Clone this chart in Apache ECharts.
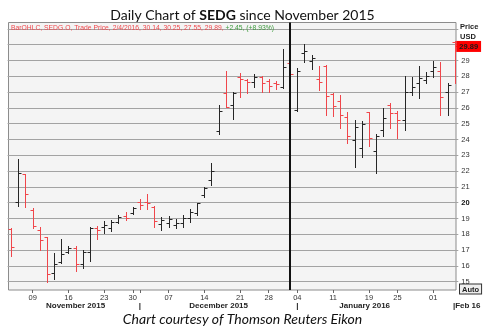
<!DOCTYPE html>
<html>
<head>
<meta charset="utf-8">
<script src="https://cdn.jsdelivr.net/npm/echarts@6/dist/echarts.min.js"></script>
<style>
  html, body { margin: 0; padding: 0; background: #ffffff; }
  #chart { width: 485px; height: 328px; }
</style>
</head>
<body>
<div id="chart"></div>
<script>
// SEDG daily bars, 4 Nov 2015 - 4 Feb 2016
const dates = [
  '2015-11-04','2015-11-05','2015-11-06','2015-11-09','2015-11-10','2015-11-11','2015-11-12','2015-11-13',
  '2015-11-16','2015-11-17','2015-11-18','2015-11-19','2015-11-20','2015-11-23','2015-11-24','2015-11-25',
  '2015-11-27','2015-11-30',
  '2015-12-01','2015-12-02','2015-12-03','2015-12-04','2015-12-07','2015-12-08','2015-12-09','2015-12-10',
  '2015-12-11','2015-12-14','2015-12-15','2015-12-16','2015-12-17','2015-12-18','2015-12-21','2015-12-22',
  '2015-12-23','2015-12-24','2015-12-28','2015-12-29','2015-12-30','2015-12-31',
  '2016-01-04','2016-01-05','2016-01-06','2016-01-07','2016-01-08','2016-01-11','2016-01-12','2016-01-13',
  '2016-01-14','2016-01-15','2016-01-19','2016-01-20','2016-01-21','2016-01-22','2016-01-25','2016-01-26',
  '2016-01-27','2016-01-28','2016-01-29',
  '2016-02-01','2016-02-02','2016-02-03','2016-02-04'
];
const opens = [
  18.35, 20.05, 21.80, 19.55, 18.27, 17.80, 15.53, 16.25, 16.90, 17.11, 16.12, 16.90, 18.38, 18.44, 18.40, 18.80,
  19.15, 19.37,
  20.07, 20.07, 19.75, 18.65, 18.73, 18.59, 18.70, 19.01, 19.33, 20.49, 21.44, 24.56, 26.96, 26.18, 27.94, 27.77,
  27.66, 27.94, 27.70, 27.60, 27.34, 28.82,
  25.87, 29.46, 28.97, 27.80, 28.65, 26.90, 26.44, 25.40, 23.97, 23.44, 25.76, 23.30, 24.60, 26.18, 25.70, 25.23,
  27.03, 27.56, 27.77,
  28.35, 28.35, 27.03, 30.14
];
const highs = [
  18.40, 22.75, 21.82, 19.66, 18.48, 17.85, 16.80, 17.72, 17.25, 17.26, 17.00, 18.44, 18.53, 18.85, 18.92, 19.22,
  19.43, 19.75,
  20.22, 20.53, 19.79, 19.11, 19.16, 18.95, 19.22, 19.58, 20.00, 21.01, 22.49, 26.18, 28.35, 27.03, 28.23, 27.81,
  28.15, 28.02, 27.81, 27.72, 29.73, 28.97,
  28.50, 30.06, 29.35, 28.63, 28.72, 26.96, 26.80, 25.76, 25.23, 25.15, 25.76, 24.35, 26.02, 26.33, 25.82, 28.02,
  27.94, 28.65, 28.29,
  28.99, 28.92, 27.56, 30.25
];
const lows = [
  16.60, 19.80, 19.75, 18.38, 17.00, 15.00, 15.15, 16.20, 16.80, 15.68, 15.85, 16.33, 17.68, 18.10, 18.18, 18.70,
  18.90, 19.28,
  19.58, 19.58, 18.48, 18.27, 18.48, 18.38, 18.48, 18.80, 19.22, 20.38, 21.12, 24.35, 26.04, 25.28, 26.67, 26.96,
  27.30, 27.03, 27.03, 27.18, 27.28, 27.97,
  25.80, 28.90, 28.47, 27.15, 25.55, 25.50, 24.75, 23.80, 22.26, 22.90, 23.62, 21.90, 24.22, 24.71, 24.07, 24.60,
  26.82, 26.61, 27.56,
  27.97, 25.55, 25.55, 27.55
];
const closes = [
  17.20, 21.90, 20.55, 18.52, 17.64, 15.47, 16.12, 16.75, 17.15, 16.12, 16.90, 18.40, 18.27, 18.59, 18.75, 19.08,
  19.05, 19.64,
  19.85, 19.96, 18.84, 18.90, 18.95, 18.73, 19.01, 19.43, 19.96, 20.91, 22.03, 25.80, 26.07, 26.96, 27.80, 27.66,
  27.94, 27.60, 27.40, 27.49, 28.61, 28.13,
  28.35, 29.58, 29.14, 27.65, 26.73, 26.10, 25.52, 24.22, 24.81, 24.98, 24.10, 24.22, 25.35, 25.70, 25.23, 27.03,
  27.30, 27.87, 28.02,
  28.61, 26.71, 27.44, 29.89
];

// day-of-month labels on the date axis
const dayTicks = [
  '2015-11-09','2015-11-16','2015-11-23','2015-11-30','2015-12-07','2015-12-14','2015-12-21','2015-12-28',
  '2016-01-04','2016-01-11','2016-01-19','2016-01-25','2016-02-01'
];
// month row: label text anchored at a trading day, '|' marks a month start
const monthDates  = ['2015-11-17', '2015-12-01', '2015-12-16', '2016-01-04', '2016-01-15', '2016-02-04'];
const monthTexts  = ['November 2015', '|', 'December 2015', '|', 'January 2016', '|Feb 16'];
const cursorDate = '2015-12-31';

const RED = '#f0464b';
const INK = '#262626';
const SMALL_FONT = '"Liberation Sans", Arial, sans-serif';

const daySet = new Set(dayTicks);
const tickSet = new Set(dayTicks.concat(['2015-12-01']));
const monthMap = new Map(monthDates.map((d, i) => [d, monthTexts[i]]));

const last = dates.length - 1;
const prevClose = closes[last - 1];
const change = closes[last] - prevClose;
const changePct = change / prevClose * 100;
const [ly, lm, ld] = dates[last].split('-').map(Number);
const legendMain = ['BarOHLC', 'SEDG.O', 'Trade Price', `${lm}/${ld}/${ly}`,
  opens[last].toFixed(2), highs[last].toFixed(2), lows[last].toFixed(2), closes[last].toFixed(2)].join(', ') + ', ';
const legendChange = `+${change.toFixed(2)}, (+${changePct.toFixed(2)}%)`;

// the quote line is set in a condensed face: squeeze it to its box width
const LEGEND_SIZE = 7.6;
const LEGEND_WIDTH = 263;
const measureCtx = document.createElement('canvas').getContext('2d');
measureCtx.font = LEGEND_SIZE + 'px "Liberation Sans", Arial, sans-serif';
const legendScale = Math.min(1, LEGEND_WIDTH / measureCtx.measureText(legendMain + legendChange).width);

const ohlcData = dates.map((d, i) => [d, opens[i], highs[i], lows[i], closes[i]]);

function renderBar(params, api) {
  const idx = api.value(0);
  const o = api.value(1), h = api.value(2), l = api.value(3), c = api.value(4);
  const pHigh = api.coord([idx, h]);
  const pLow = api.coord([idx, l]);
  const yo = Math.round(api.coord([idx, o])[1]) + 0.5;
  const yc = Math.round(api.coord([idx, c])[1]) + 0.5;
  const x = Math.round(pHigh[0]) + 0.5;
  const style = { stroke: c < o ? RED : INK, lineWidth: 1 };
  return {
    type: 'group',
    children: [
      { type: 'line', shape: { x1: x, y1: Math.round(pHigh[1]), x2: x, y2: Math.round(pLow[1]) + 1 }, style },
      { type: 'line', shape: { x1: x - 3, y1: yo, x2: x, y2: yo }, style },
      { type: 'line', shape: { x1: x, y1: yc, x2: x + 3, y2: yc }, style }
    ]
  };
}

const chart = echarts.init(document.getElementById('chart'), null, { renderer: 'canvas' });

chart.setOption({
  animation: false,
  backgroundColor: '#ffffff',
  title: [
    {
      text: '{n|Daily Chart of }{b|SEDG}{n| since November 2015}',
      left: 'center', top: 3,
      textStyle: {
        fontWeight: 'normal',
        rich: {
          n: { fontFamily: 'Lato, sans-serif', fontSize: 14, color: '#111', fontWeight: 'normal' },
          b: { fontFamily: 'Lato, sans-serif', fontSize: 14, color: '#111', fontWeight: 'bold' }
        }
      }
    },
    {
      text: 'Chart courtesy of Thomson Reuters Eikon',
      left: 'center', top: 307,
      textStyle: { fontFamily: 'Lato, sans-serif', fontSize: 14, fontStyle: 'italic', fontWeight: 'normal', color: '#111' }
    }
  ],
  grid: { left: 7.6, right: 26.7, top: 13.1, bottom: 30.5, containLabel: false },
  xAxis: [
    {
      type: 'category', data: dates, boundaryGap: true, position: 'bottom', offset: -7.5,
      axisLine: { show: false },
      axisTick: { show: true, alignWithLabel: true, length: 3, interval: (i, v) => tickSet.has(v), lineStyle: { color: '#666' } },
      axisLabel: {
        interval: (i, v) => daySet.has(v), formatter: v => v.slice(8),
        fontFamily: SMALL_FONT, fontSize: 7.5, color: '#333', margin: 4
      },
      splitLine: { show: false }
    },
    {
      type: 'category', data: dates, boundaryGap: true, position: 'bottom', offset: -7.5,
      axisLine: { show: false }, axisTick: { show: false },
      axisLabel: {
        interval: (i, v) => monthMap.has(v),
        formatter: v => {
          const t = monthMap.get(v) || '';
          if (t.startsWith('|F')) return '{r|' + t + '}';
          if (t === 'January 2016') return '{j|' + t + '}';
          return t;
        },
        fontFamily: SMALL_FONT, fontSize: 8, fontWeight: 'bold', color: '#222', margin: 12,
        rich: {
          r: { fontFamily: SMALL_FONT, fontSize: 8, fontWeight: 'bold', color: '#222', padding: [0, 0, 0, 24] },
          j: { fontFamily: SMALL_FONT, fontSize: 8, fontWeight: 'bold', color: '#222', padding: [0, 0, 0, 6] }
        }
      },
      splitLine: { show: false }
    }
  ],
  yAxis: {
    type: 'value', position: 'right', min: 14, max: 32, interval: 1,
    axisLine: { show: false }, axisTick: { show: false },
    splitLine: { show: true, showMinLine: false, showMaxLine: false, lineStyle: { color: '#a3a3a3', width: 1 } },
    axisLabel: {
      margin: 3, fontFamily: SMALL_FONT, fontSize: 7.5, color: '#333',
      showMinLabel: false, showMaxLabel: false,
      formatter: v => (v >= 30 || v < 15) ? '' : (v === 20 ? '{b|20}' : String(v)),
      rich: { b: { fontFamily: SMALL_FONT, fontSize: 7.5, fontWeight: 'bold', color: '#111' } }
    }
  },
  series: [
    {
      name: 'SEDG.O',
      type: 'custom',
      renderItem: renderBar,
      dimensions: ['date', 'open', 'high', 'low', 'close'],
      encode: { x: 0, y: [1, 2, 3, 4] },
      data: ohlcData,
      z: 3,
      markLine: {
        silent: true, symbol: 'none', animation: false,
        data: [
          [
            { coord: [cursorDate, 31.4], lineStyle: { color: '#111', width: 2, type: 'solid' }, label: { show: false } },
            { coord: [cursorDate, 14.47] }
          ],
          {
            yAxis: closes[last],
            lineStyle: { color: 'rgba(0,0,0,0)', width: 0 },
            label: {
              show: true, position: 'end', distance: 0, offset: [-2, 0],
              formatter: closes[last].toFixed(2),
              backgroundColor: '#ff0000', color: '#1a1a1a', fontWeight: 'bold', opacity: 1,
              fontFamily: SMALL_FONT, fontSize: 7.5, padding: [2, 3, 1, 3]
            }
          }
        ]
      }
    }
  ],
  graphic: [
    {
      type: 'rect', z: -10, silent: true,
      shape: { x: 8.5, y: 22.5, width: 447.5, height: 267.5 },
      style: { fill: '#f4f4f4', stroke: '#8c8c8c', lineWidth: 1 }
    },
    {
      type: 'text', x: 11, y: 23.5, z: 5, silent: true, scaleX: legendScale,
      style: {
        text: '{m|' + legendMain + '}{g|' + legendChange + '}',
        rich: {
          m: { fontFamily: SMALL_FONT, fontSize: LEGEND_SIZE, fill: '#f0464b' },
          g: { fontFamily: SMALL_FONT, fontSize: LEGEND_SIZE, fill: '#3c9a3c' }
        }
      }
    },
    {
      type: 'text', left: 460, top: 23, silent: true,
      style: { text: 'Price', fontFamily: SMALL_FONT, fontSize: 7.5, fontWeight: 'bold', fill: '#222' }
    },
    {
      type: 'text', left: 460, top: 33, silent: true,
      style: { text: 'USD', fontFamily: SMALL_FONT, fontSize: 7.5, fontWeight: 'bold', fill: '#222' }
    },
    {
      type: 'text', left: 459, top: 283.5, silent: true,
      style: {
        text: 'Auto', fontFamily: SMALL_FONT, fontSize: 7.5, fontWeight: 'bold', fill: '#222',
        backgroundColor: '#eeeeee', borderColor: '#333', borderWidth: 1, padding: [1, 2, 0, 2]
      }
    }
  ]
});
</script>
</body>
</html>
